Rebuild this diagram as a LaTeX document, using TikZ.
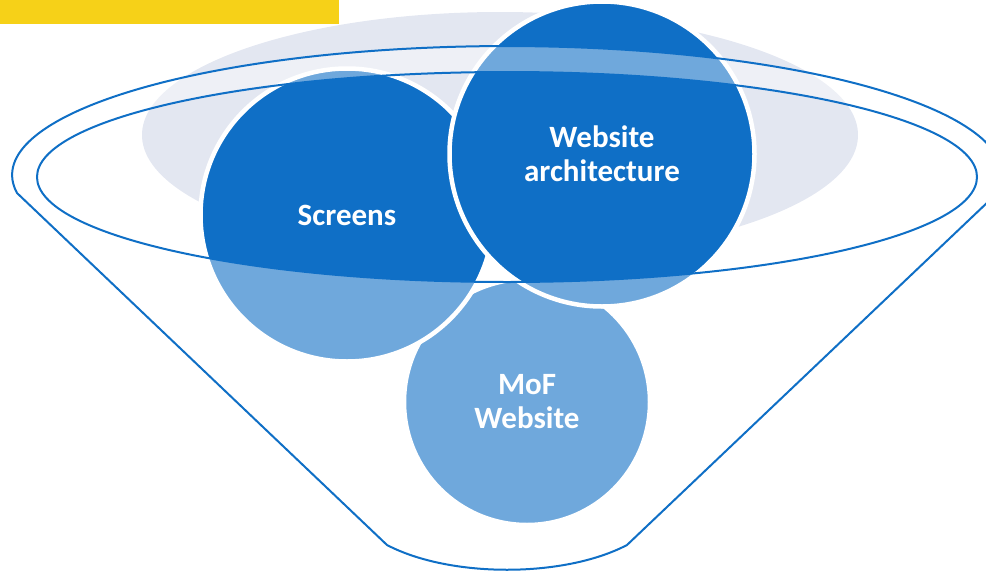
\documentclass[tikz,border=0pt]{standalone}
\usepackage{fontspec}
\setmainfont{Carlito}
\definecolor{dkblue}{HTML}{0F6FC6}
\definecolor{barcolour}{HTML}{F6D118}
\definecolor{greyell}{HTML}{E3E7F1}
\tikzset{
  bubble/.style={circle, fill=dkblue, draw=white, line width=4.5pt, inner sep=0pt,
    text=white, align=center, font=\fontsize{31}{34}\selectfont\bfseries},
  funnelline/.style={draw=dkblue, line width=2pt},
  overlay/.style={fill=white, fill opacity=0.4, even odd rule}
}
\begin{document}
\begin{tikzpicture}[x=1pt,y=-1pt]
\useasboundingbox (0,0) rectangle (986,573);
\fill[fill=barcolour] (0,0) rectangle (339,24);
\fill[fill=greyell] (500,135) ellipse [x radius=358, y radius=123];
\node[bubble, minimum size=246pt] (mof) at (527,402) {MoF\\Website};
\node[bubble, minimum size=293pt] (scr) at (347,215) {Screens};
\node[bubble, minimum size=305pt] (web) at (602,154) {Website\\architecture};
\path[overlay] (17,193) arc[start angle=172, end angle=368, x radius=495, y radius=129]
  -- (627,545) .. controls (564,578) and (450,578) .. (387,545) -- cycle
  (507,177) ellipse [x radius=470, y radius=105];
\draw[funnelline] (17,193) arc[start angle=172, end angle=368, x radius=495, y radius=129]
  -- (627,545) .. controls (564,578) and (450,578) .. (387,545) -- cycle;
\draw[funnelline] (507,177) ellipse [x radius=470, y radius=105];
\end{tikzpicture}
\end{document}
